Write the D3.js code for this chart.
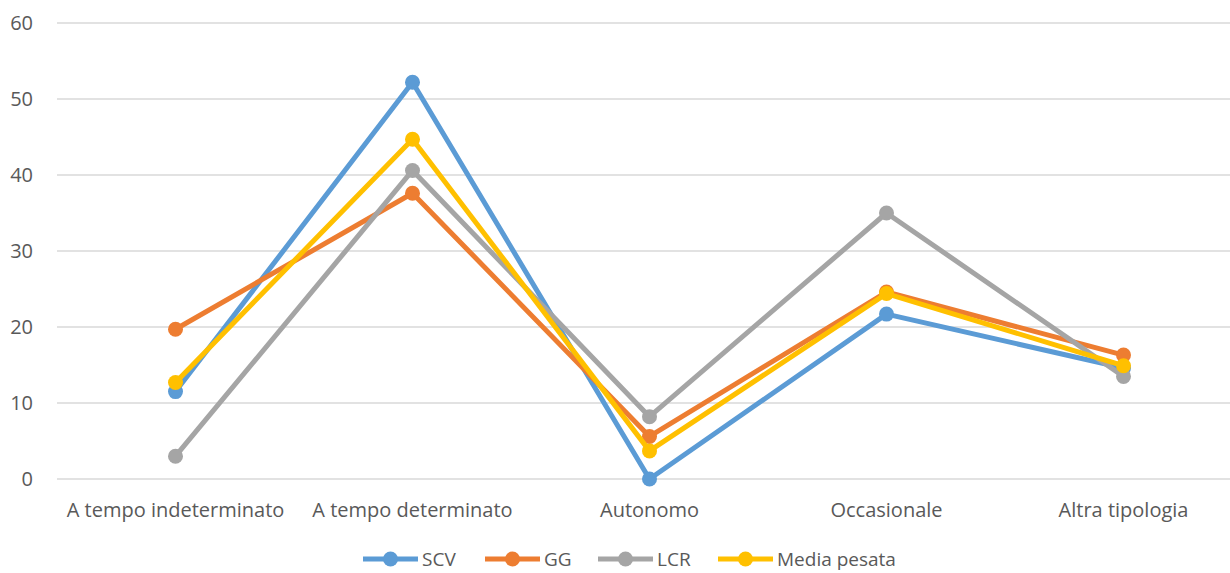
<!DOCTYPE html>
<html>
<head>
<meta charset="utf-8">
<script src="https://cdn.jsdelivr.net/npm/d3@7"></script>
<style>
  html, body { margin: 0; padding: 0; background: #fff; }
  svg { display: block; font-family: "Open Sans", sans-serif; }
</style>
</head>
<body>
<svg id="chart" width="1230" height="573"></svg>
<script>
// Contract types and the share (%) reported by each source
const categories = ["A tempo indeterminato", "A tempo determinato", "Autonomo", "Occasionale", "Altra tipologia"];
const scv   = [11.5, 52.2, 0.0, 21.7, 14.6];
const gg    = [19.7, 37.6, 5.6, 24.6, 16.3];
const lcr   = [3.0, 40.6, 8.2, 35.0, 13.5];
const media = [12.7, 44.7, 3.7, 24.4, 14.9];
const yTicks = [0, 10, 20, 30, 40, 50, 60];

const series = [
  { name: "SCV", values: scv, color: "#5b9bd5" },
  { name: "GG", values: gg, color: "#ed7d31" },
  { name: "LCR", values: lcr, color: "#a5a5a5" },
  { name: "Media pesata", values: media, color: "#ffc000" }
];

const svg = d3.select("#chart");
const margin = { left: 57, right: -12, top: 23, bottom: 94 };
const W = 1230, H = 573;
const fontSize = "20px";

const x = d3.scaleBand().domain(categories).range([margin.left, W - margin.right]).padding(0);
const y = d3.scaleLinear().domain([0, 60]).range([H - margin.bottom, margin.top]);

// horizontal gridlines
svg.append("g")
  .selectAll("line")
  .data(yTicks)
  .join("line")
  .attr("x1", margin.left).attr("x2", W)
  .attr("y1", d => y(d)).attr("y2", d => y(d))
  .attr("stroke", "#d9d9d9").attr("stroke-width", 1.3);

// y axis labels
const yAxis = svg.append("g")
  .attr("transform", `translate(${margin.left},0)`)
  .call(d3.axisLeft(y).tickValues(yTicks).tickSize(0).tickPadding(24));
yAxis.select(".domain").remove();
yAxis.selectAll("text").attr("fill", "#595959").style("font-size", fontSize).style("font-family", "'Open Sans', sans-serif");

// x axis labels
const xAxis = svg.append("g")
  .attr("transform", `translate(0,${y(0)})`)
  .call(d3.axisBottom(x).tickSize(0).tickPadding(24));
xAxis.select(".domain").remove();
xAxis.selectAll("text").attr("fill", "#595959").style("font-size", fontSize).style("font-family", "'Open Sans', sans-serif");

const cx = (d, i) => x(categories[i]) + x.bandwidth() / 2;
const line = d3.line().x((d, i) => cx(d, i)).y(d => y(d));

const g = svg.append("g");
series.forEach(s => {
  g.append("path")
    .datum(s.values)
    .attr("d", line)
    .attr("fill", "none")
    .attr("stroke", s.color)
    .attr("stroke-width", 5)
    .attr("stroke-linejoin", "round");
  g.selectAll(null)
    .data(s.values)
    .join("circle")
    .attr("cx", cx)
    .attr("cy", d => y(d))
    .attr("r", 7.5)
    .attr("fill", s.color);
});

// legend
const legendX = [363, 485, 598, 718];
const legend = svg.append("g");
series.forEach((s, i) => {
  const lg = legend.append("g").attr("transform", `translate(${legendX[i]},559)`);
  lg.append("line").attr("x1", 0).attr("x2", 55).attr("y1", 0).attr("y2", 0)
    .attr("stroke", s.color).attr("stroke-width", 5);
  lg.append("circle").attr("cx", 27.5).attr("cy", 0).attr("r", 7.5).attr("fill", s.color);
  lg.append("text").attr("x", 59).attr("y", 7)
    .attr("fill", "#595959").style("font-size", "19px").text(s.name);
});
</script>
</body>
</html>
